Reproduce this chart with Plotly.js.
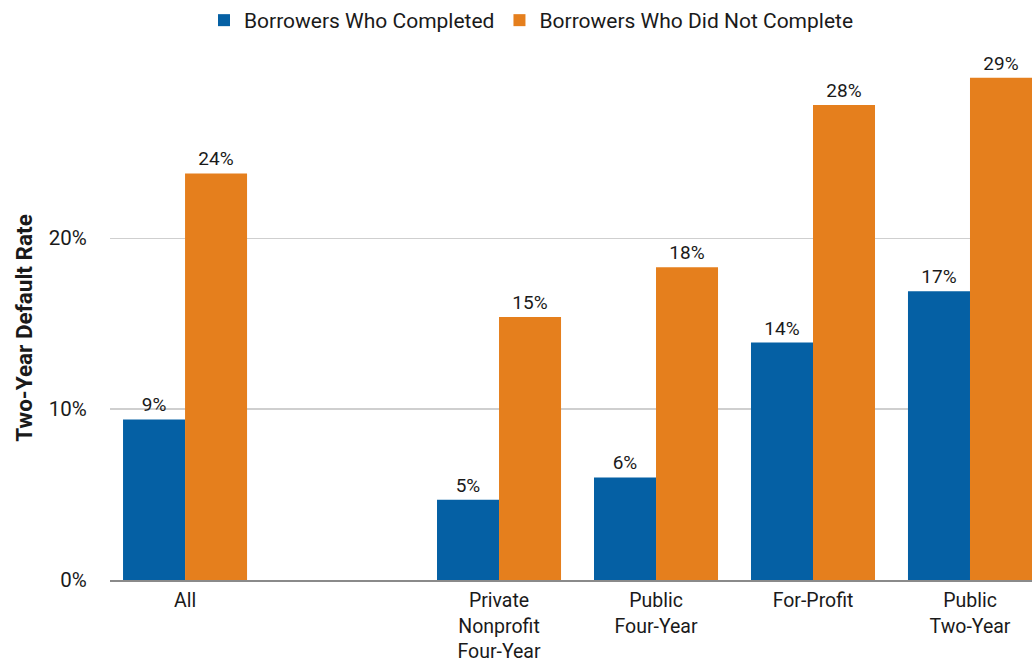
<!DOCTYPE html>
<html>
<head>
<meta charset="utf-8">
<script src="https://cdn.plot.ly/plotly-3.0.1.min.js"></script>
<style>html,body{margin:0;padding:0;background:#fff;}#chart{width:1032px;height:667px;}</style>
</head>
<body>
<div id="chart"></div>
<script>
const categories = ["All", " ", "Private<br>Nonprofit<br>Four-Year", "Public<br>Four-Year", "For-Profit", "Public<br>Two-Year"];
const completed = [9.4, null, 4.7, 6.0, 13.9, 16.9];
const notCompleted = [23.8, null, 15.4, 18.3, 27.8, 29.4];
const seriesNames = ["Borrowers Who Completed", "Borrowers Who Did Not Complete"];
const yTickVals = [0, 10, 20];
const yTickText = ["0%", "10%", "20%"];

const FONT = "Roboto, 'Liberation Sans', Arial, sans-serif";
const BLUE = "#0560a4";
const ORANGE = "#e57f1d";

const traces = [
  {type: "bar", name: seriesNames[0], x: categories, y: completed,
   marker: {color: BLUE}, texttemplate: "%{y:.0f}%", textposition: "outside",
   textfont: {family: FONT, size: 19, color: "#1a1a1a"}, cliponaxis: false, hoverinfo: "skip"},
  {type: "bar", name: seriesNames[1], x: categories, y: notCompleted,
   marker: {color: ORANGE}, texttemplate: "%{y:.0f}%", textposition: "outside",
   textfont: {family: FONT, size: 19, color: "#1a1a1a"}, cliponaxis: false, hoverinfo: "skip"}
];

const layout = {
  width: 1032, height: 667,
  margin: {l: 110, r: 0, t: 75.5, b: 87},
  paper_bgcolor: "#fff", plot_bgcolor: "#fff",
  font: {family: FONT, size: 20, color: "#1a1a1a"},
  barmode: "group", bargap: 0.21, bargroupgap: 0,
  showlegend: true,
  legend: {orientation: "h", xref: "container", yref: "container", x: 0.515, xanchor: "center",
           y: 1, yanchor: "top", font: {family: FONT, size: 21, color: "#1a1a1a"},
           traceorder: "normal", itemwidth: 30},
  xaxis: {type: "category", categoryorder: "array", categoryarray: categories,
          range: [-0.478, 5.395], showgrid: false, zeroline: false,
          showline: true, linecolor: "#8a8a8a", linewidth: 2, ticks: "outside", ticklen: 2, tickcolor: "rgba(0,0,0,0)",
          tickfont: {family: FONT, size: 19.5, color: "#1a1a1a"}, fixedrange: true},
  yaxis: {range: [0, 29.5], tickvals: yTickVals, ticktext: yTickText,
          showgrid: true, gridcolor: "#cfcfcf", gridwidth: 1.5, zeroline: false,
          showline: false, ticks: "outside", ticklen: 18, tickcolor: "rgba(0,0,0,0)",
          tickfont: {family: FONT, size: 20.5, color: "#1a1a1a"},
          title: {text: "<b>Two-Year Default Rate</b>", font: {family: FONT, size: 22.5, color: "#1a1a1a"}, standoff: 9},
          fixedrange: true}
};

Plotly.newPlot("chart", traces, layout, {displayModeBar: false, staticPlot: true});
</script>
</body>
</html>
